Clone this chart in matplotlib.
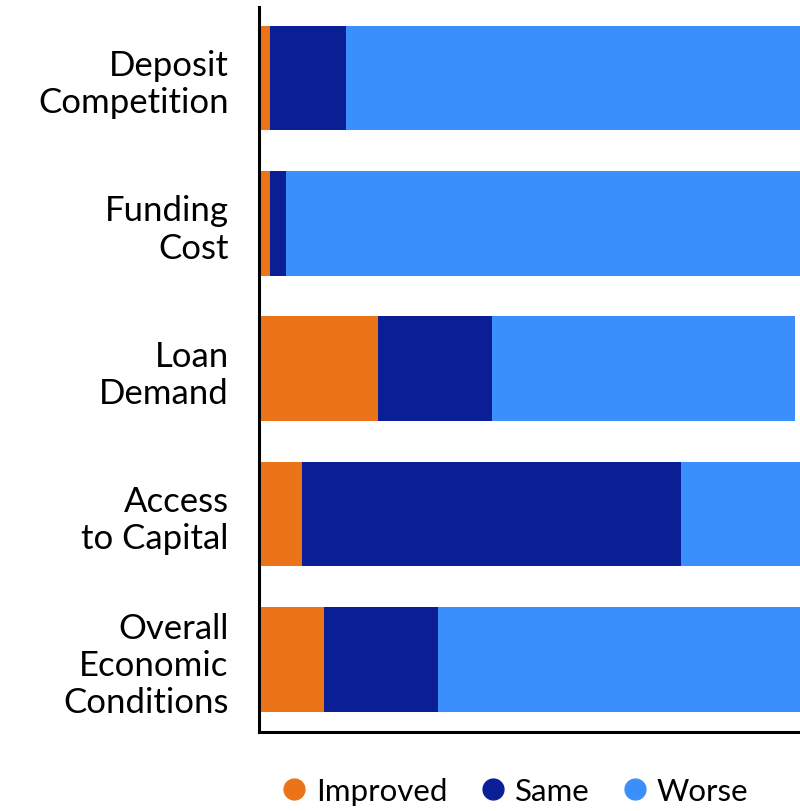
import numpy as np
import matplotlib.pyplot as plt

plt.rcParams['font.family'] = ['Lato', 'DejaVu Sans']

categories = ['Deposit\nCompetition', 'Funding\nCost', 'Loan\nDemand',
              'Access\nto Capital', 'Overall\nEconomic\nConditions']
improved = [2, 2, 22, 8, 12]
same = [14, 3, 21, 70, 21]
worse = [84, 95, 56, 22, 67]

colors = ['#EC7418', '#0A1F96', '#3B8FFD']
names = ['Improved', 'Same', 'Worse']

fig = plt.figure(figsize=(8, 8.12), dpi=100)
ax = fig.add_axes([0.324, 0.0973, 0.676, 0.893])

y = np.arange(len(categories))
left = np.zeros(len(categories))
for vals, c, n in zip([improved, same, worse], colors, names):
    ax.barh(y, vals, left=left, height=0.72, color=c, label=n)
    left += np.array(vals)

ax.set_xlim(0, 100)
ax.set_ylim(len(categories) - 0.5, -0.49)
ax.set_yticks(y)
ax.set_yticklabels(categories, fontsize=25, linespacing=1.2)
ax.tick_params(axis='y', length=0, pad=22)
ax.set_xticks([])
for s in ['top', 'right']:
    ax.spines[s].set_visible(False)
ax.spines['left'].set_linewidth(2.2)
ax.spines['bottom'].set_linewidth(2.2)

handles = [plt.Line2D([], [], marker='o', linestyle='', markersize=15,
                      color=c) for c in colors]
fig.legend(handles, names, loc='center', bbox_to_anchor=(0.643, 0.025),
           ncol=3, frameon=False, fontsize=22.5, handletextpad=0.25,
           columnspacing=1.0, handlelength=0.9)

fig.savefig('out.png', dpi=100)
